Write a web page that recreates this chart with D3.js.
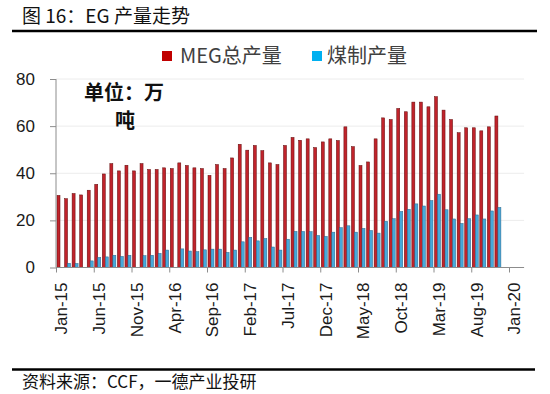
<!DOCTYPE html>
<html>
<head>
<meta charset="utf-8">
<script src="https://cdn.jsdelivr.net/npm/d3@7"></script>
<style>
   body { margin: 0; background: #fff; }
   text { font-family: "Liberation Sans", Arial, sans-serif; }
   .cjk { font-family: "Noto Sans CJK SC", sans-serif; }
</style>
</head>
<body>
<div id="chart"></div>
<script>
var w = 550;
var h = 394;

var monthNames = ["Jan", "Feb", "Mar", "Apr", "May", "Jun",
                  "Jul", "Aug", "Sep", "Oct", "Nov", "Dec"];

// Jan-15 .. Nov-19, 万吨
var megTotal = [30.6, 29.2, 31.4, 30.8, 32.8, 35.3, 39.7, 44.1, 41.0, 43.4, 41.0, 44.1,
                41.6, 41.6, 42.3, 42.0, 44.4, 43.3, 42.3, 42.0, 39.1, 43.7, 42.0, 46.5,
                52.3, 49.8, 51.8, 49.6, 44.4, 43.7, 51.8, 55.2, 54.0, 54.6, 50.9, 53.3,
                54.6, 53.9, 59.7, 51.3, 43.3, 44.8, 54.6, 63.5, 62.8, 67.5, 66.1, 70.2,
                70.2, 68.2, 72.5, 66.8, 62.8, 57.2, 59.3, 59.3, 58.0, 59.7, 64.3];
var coalBased = [null, 1.8, 1.7, null, 2.8, 4.3, 4.5, 5.2, 4.7, 5.2, null, 5.0,
                 5.2, 6.0, 7.4, null, 7.9, 7.0, 6.7, 7.5, 7.8, 7.8, 6.4, 7.4,
                 10.9, 12.8, 11.3, 12.3, 8.7, 7.4, 12.0, 15.3, 15.3, 15.2, 13.6, 13.2,
                 15.0, 16.9, 17.7, 15.0, 16.6, 15.7, 14.6, 19.6, 20.7, 23.8, 24.7, 27.0,
                 26.1, 28.4, 31.1, 24.5, 20.6, 18.7, 20.7, 22.3, 20.6, 24.0, 25.5];
var xTicks = [0, 5, 10, 15, 20, 25, 30, 35, 40, 45, 50, 55, 60];
var yTicks = [0, 20, 40, 60, 80];
var seriesNames = ["MEG总产量", "煤制产量"];

var monthLabel = function(i) {
   var yr = 15 + Math.floor(i / 12);
   return monthNames[i % 12] + "-" + yr;
}

var left = 56;
var axisY = 267.5;
var topY = 79;

var x = d3.scaleLinear().domain([0, 60]).range([left, 509]);
var y = d3.scaleLinear().domain([0, 80]).range([axisY, topY]);
var plotRight = x(62);

var svg = d3.select("#chart")
            .append("svg")
            .attr("width", w)
            .attr("height", h);

// title + rules
svg.append("text")
   .attr("class", "cjk")
   .attr("x", 22)
   .attr("y", 23)
   .attr("font-size", 19)
   .attr("fill", "#111")
   .text("图 16：EG 产量走势");

svg.append("line")
   .attr("x1", 12).attr("x2", 537)
   .attr("y1", 31).attr("y2", 31)
   .attr("stroke", "#000")
   .attr("stroke-width", 2.5);

svg.append("line")
   .attr("x1", 12).attr("x2", 535)
   .attr("y1", 369.5).attr("y2", 369.5)
   .attr("stroke", "#000")
   .attr("stroke-width", 2.5);

svg.append("text")
   .attr("class", "cjk")
   .attr("x", 22)
   .attr("y", 388)
   .attr("font-size", 17)
   .attr("fill", "#111")
   .text("资料来源：CCF，一德产业投研");

// grid
svg.append("g")
   .selectAll("line")
   .data(yTicks.slice(1))
   .join("line")
   .attr("x1", left).attr("x2", plotRight)
   .attr("y1", function(d) { return y(d); })
   .attr("y2", function(d) { return y(d); })
   .attr("stroke", "#ececec")
   .attr("stroke-width", 1);

// bars
svg.append("g")
   .selectAll("rect")
   .data(megTotal)
   .join("rect")
   .attr("x", function(d, i) { return x(i) + 1; })
   .attr("y", function(d) { return y(d); })
   .attr("width", 3)
   .attr("height", function(d) { return axisY - y(d); })
   .attr("fill", "#c0232b")
   .attr("stroke", "#5e0b0b")
   .attr("stroke-width", 0.5);

svg.append("g")
   .selectAll("rect")
   .data(coalBased.map(function(d, i) { return {v: d, i: i}; })
                  .filter(function(d) { return d.v !== null; }))
   .join("rect")
   .attr("x", function(d) { return x(d.i) + 4; })
   .attr("y", function(d) { return y(d.v); })
   .attr("width", 3)
   .attr("height", function(d) { return axisY - y(d.v); })
   .attr("fill", "#45a9dc")
   .attr("stroke", "#2f6688")
   .attr("stroke-width", 0.5);

// axes
var yAxis = svg.append("g")
               .attr("transform", "translate(" + left + ",0)")
               .call(d3.axisLeft(y).tickValues(yTicks).tickSize(6).tickPadding(15));

var xAxis = svg.append("g")
               .attr("transform", "translate(0," + axisY + ")")
               .call(d3.axisBottom(x).tickValues(xTicks).tickSize(5)
                        .tickFormat(monthLabel));

svg.selectAll(".domain").remove();

svg.append("line")
   .attr("x1", left).attr("x2", left)
   .attr("y1", topY).attr("y2", axisY)
   .attr("stroke", "#8c8c8c");

svg.append("line")
   .attr("x1", left).attr("x2", plotRight)
   .attr("y1", axisY).attr("y2", axisY)
   .attr("stroke", "#8c8c8c");

yAxis.selectAll(".tick line").attr("stroke", "#8c8c8c");
xAxis.selectAll(".tick line").attr("stroke", "#8c8c8c");

yAxis.selectAll(".tick text")
     .attr("font-size", 17)
     .attr("fill", "#1a1a1a")
     .attr("font-family", "Liberation Sans, Arial, sans-serif");

xAxis.selectAll(".tick text")
     .attr("font-size", 17)
     .attr("fill", "#1a1a1a")
     .attr("font-family", "Liberation Sans, Arial, sans-serif")
     .attr("text-anchor", "end")
     .attr("transform", "rotate(-90)")
     .attr("x", -15)
     .attr("y", 5)
     .attr("dy", "0.35em");

// legend
var legendColors = ["#c00000", "#00b0f0"];
var legendX = [162, 312];
var legend = svg.append("g");
legend.selectAll("rect")
      .data(seriesNames)
      .join("rect")
      .attr("x", function(d, i) { return legendX[i]; })
      .attr("y", 51)
      .attr("width", 10)
      .attr("height", 10)
      .attr("fill", function(d, i) { return legendColors[i]; });

legend.selectAll("text")
      .data(seriesNames)
      .join("text")
      .attr("class", "cjk")
      .attr("x", function(d, i) { return legendX[i] + (i == 0 ? 18 : 15); })
      .attr("y", 63)
      .attr("font-size", 20)
      .attr("fill", "#404040")
      .text(function(d) { return d; });

// unit note
var unit = svg.append("text")
              .attr("class", "cjk")
              .attr("text-anchor", "middle")
              .attr("font-size", 20)
              .attr("font-weight", "bold")
              .attr("fill", "#111");
unit.append("tspan").attr("x", 124).attr("y", 100).text("单位：万");
unit.append("tspan").attr("x", 125).attr("y", 128).text("吨");
</script>
</body>
</html>
